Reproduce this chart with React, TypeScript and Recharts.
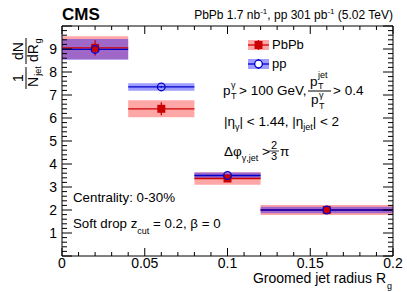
import {
    ComposedChart,
    Scatter,
    ErrorBar,
    XAxis,
    YAxis,
    ReferenceArea,
} from "recharts";

const FONT = "'Liberation Sans', Arial, Helvetica, sans-serif";

// Rg bins
const binLow = [0, 0.04, 0.08, 0.12];
const binHigh = [0.04, 0.08, 0.12, 0.2];

// PbPb 0-30%
const pbpbValue = [9.05, 6.4, 3.37, 2.0];
const pbpbStat = [0.33, 0.28, 0.14, 0.06];
const pbpbSyst = [0.5, 0.37, 0.27, 0.22];

// pp
const ppValue = [8.98, 7.35, 3.5, 2.0];
const ppStat = [0.06, 0.04, 0.04, 0.03];
const ppSyst = [0.45, 0.16, 0.13, 0.14];

const xTickLabels = [0, 0.05, 0.1, 0.15, 0.2];
const yTickLabels = [1, 2, 3, 4, 5, 6, 7, 8, 9];
const xAllTicks = Array.from({ length: 21 }, (_, i) => +(i * 0.01).toFixed(2));
const yAllTicks = Array.from({ length: 51 }, (_, i) => +(i * 0.2).toFixed(1));

const RED = "#cc0000";
const BLUE = "#0000cc";

const W = 407;
const H = 292;
const MARGIN = { top: 26, right: 14, bottom: 16, left: 32 };
const PLOT_TOP = MARGIN.top;
const PLOT_RIGHT = W - MARGIN.right;

const toPoints = (vals: number[], stat: number[]) =>
    vals.map((v, i) => ({
        x: (binLow[i] + binHigh[i]) / 2,
        y: v,
        xerr: (binHigh[i] - binLow[i]) / 2,
        yerr: stat[i],
    }));

const pbpbPoints = toPoints(pbpbValue, pbpbStat);
const ppPoints = toPoints(ppValue, ppStat);

const SquareMarker = (p: any) => (
    <rect x={p.cx - 4} y={p.cy - 4} width={8} height={8} fill={RED} />
);
const CircleMarker = (p: any) => (
    <circle cx={p.cx} cy={p.cy} r={3.8} fill="none" stroke={BLUE} strokeWidth={1.3} />
);

const isIn = (list: number[], v: number) => list.some((t) => Math.abs(t - v) < 1e-6);

// ROOT style: ticks pointing inwards, mirrored on the opposite side
const XTick = (props: any) => {
    const { x, y, payload } = props;
    const v = payload.value;
    const major = isIn(xTickLabels, v);
    const len = major ? 8 : 4;
    return (
        <g>
            <line x1={x} x2={x} y1={y} y2={y - len} stroke="#000" />
            <line x1={x} x2={x} y1={PLOT_TOP} y2={PLOT_TOP + len} stroke="#000" />
            {major && (
                <text x={x} y={y + 12} textAnchor="middle" fontSize={14} fontFamily={FONT} fill="#000">
                    {v}
                </text>
            )}
        </g>
    );
};

const YTick = (props: any) => {
    const { x, y, payload } = props;
    const v = payload.value;
    const major = Math.abs(v - Math.round(v)) < 1e-6;
    const len = major ? 10 : 5;
    return (
        <g>
            <line x1={x} x2={x + len} y1={y} y2={y} stroke="#000" />
            <line x1={PLOT_RIGHT - len} x2={PLOT_RIGHT} y1={y} y2={y} stroke="#000" />
            {isIn(yTickLabels, v) && (
                <text x={x - 5} y={y + 5} textAnchor="end" fontSize={14} fontFamily={FONT} fill="#000">
                    {v}
                </text>
            )}
        </g>
    );
};

const App = () => {
    return (
        <div style={{ position: "absolute", left: 0, top: 0, width: W, height: H, fontFamily: FONT }}>
            <ComposedChart width={W} height={H} margin={MARGIN}>
                <XAxis
                    xAxisId="x"
                    type="number"
                    dataKey="x"
                    domain={[0, 0.2]}
                    allowDataOverflow
                    ticks={xAllTicks}
                    interval={0}
                    height={20}
                    tickLine={false}
                    tickSize={0}
                    tickMargin={0}
                    axisLine={false}
                    tick={<XTick />}
                />
                <YAxis
                    yAxisId="y"
                    type="number"
                    dataKey="y"
                    domain={[0, 10]}
                    allowDataOverflow
                    ticks={yAllTicks}
                    interval={0}
                    width={30}
                    tickLine={false}
                    tickSize={0}
                    tickMargin={0}
                    axisLine={false}
                    tick={<YTick />}
                />

                {/* systematic bands */}
                {binLow.map((lo, i) => (
                    <ReferenceArea
                        key={`pbpb-syst-${i}`}
                        xAxisId="x"
                        yAxisId="y"
                        x1={lo}
                        x2={binHigh[i]}
                        y1={pbpbValue[i] - pbpbSyst[i]}
                        y2={pbpbValue[i] + pbpbSyst[i]}
                        fill="#ff0000"
                        fillOpacity={0.35}
                        stroke="none"
                        ifOverflow="visible"
                    />
                ))}
                {binLow.map((lo, i) => (
                    <ReferenceArea
                        key={`pp-syst-${i}`}
                        xAxisId="x"
                        yAxisId="y"
                        x1={lo}
                        x2={binHigh[i]}
                        y1={ppValue[i] - ppSyst[i]}
                        y2={ppValue[i] + ppSyst[i]}
                        fill="#0000ff"
                        fillOpacity={0.38}
                        stroke="none"
                        ifOverflow="visible"
                    />
                ))}

                <Scatter
                    name="PbPb"
                    xAxisId="x"
                    yAxisId="y"
                    data={pbpbPoints}
                    dataKey="y"
                    shape={SquareMarker}
                    isAnimationActive={false}
                >
                    <ErrorBar dataKey="xerr" direction="x" width={0} stroke={RED} strokeWidth={1.3} />
                    <ErrorBar dataKey="yerr" direction="y" width={0} stroke={RED} strokeWidth={1.3} />
                </Scatter>
                <Scatter
                    name="pp"
                    xAxisId="x"
                    yAxisId="y"
                    data={ppPoints}
                    dataKey="y"
                    shape={CircleMarker}
                    isAnimationActive={false}
                >
                    <ErrorBar dataKey="xerr" direction="x" width={0} stroke={BLUE} strokeWidth={1.3} />
                    <ErrorBar dataKey="yerr" direction="y" width={0} stroke={BLUE} strokeWidth={1.3} />
                </Scatter>

                {/* frame */}
                <ReferenceArea
                    xAxisId="x"
                    yAxisId="y"
                    x1={0}
                    x2={0.2}
                    y1={0}
                    y2={10}
                    fill="none"
                    fillOpacity={0}
                    stroke="#000"
                    strokeWidth={1}
                    ifOverflow="visible"
                />
            </ComposedChart>

            <svg
                width={W}
                height={H}
                style={{ position: "absolute", left: 0, top: 0, pointerEvents: "none" }}
                fontFamily={FONT}
                fill="#000"
            >
                <text x={62} y={20} fontSize={17} fontWeight="bold">CMS</text>
                <text x={393} y={19} fontSize={12} textAnchor="end">
                    PbPb 1.7 nb<tspan dy={-5} fontSize={8}>-1</tspan>
                    <tspan dy={5}>, pp 301 pb</tspan>
                    <tspan dy={-5} fontSize={8}>-1</tspan>
                    <tspan dy={5}> (5.02 TeV)</tspan>
                </text>

                {/* legend */}
                <rect x={248} y={40} width={21} height={10} fill="#ff0000" fillOpacity={0.35} />
                <line x1={248} x2={269} y1={45} y2={45} stroke={RED} strokeWidth={1.3} />
                <line x1={258.5} x2={258.5} y1={40} y2={50} stroke={RED} strokeWidth={1.3} />
                <rect x={254.5} y={41} width={8} height={8} fill={RED} />
                <text x={272} y={49} fontSize={13}>PbPb</text>
                <rect x={248} y={59} width={21} height={10} fill="#0000ff" fillOpacity={0.38} />
                <line x1={248} x2={269} y1={64} y2={64} stroke={BLUE} strokeWidth={1.3} />
                <line x1={258.5} x2={258.5} y1={59} y2={69} stroke={BLUE} strokeWidth={1.3} />
                <circle cx={258.5} cy={64} r={3.8} fill="#fff" stroke={BLUE} strokeWidth={1.3} />
                <text x={272} y={68} fontSize={13}>pp</text>

                {/* kinematic selection */}
                <text x={223} y={95} fontSize={13.5}>p</text>
                <text x={231} y={88} fontSize={9}>γ</text>
                <text x={231} y={99} fontSize={9}>T</text>
                <text x={239} y={95} fontSize={13.5}>&gt; 100 GeV,</text>
                <text x={310} y={86} fontSize={13.5}>p</text>
                <text x={318} y={78} fontSize={9}>jet</text>
                <text x={318} y={89} fontSize={9}>T</text>
                <line x1={308} x2={331} y1={91} y2={91} stroke="#000" strokeWidth={1} />
                <text x={311} y={104} fontSize={13.5}>p</text>
                <text x={319} y={98} fontSize={9}>γ</text>
                <text x={319} y={109} fontSize={9}>T</text>
                <text x={333} y={95} fontSize={13.5}>&gt; 0.4</text>

                <text x={224} y={126} fontSize={13.5}>
                    |η<tspan dy={4} fontSize={9}>γ</tspan>
                    <tspan dy={-4}>| &lt; 1.44, |η</tspan>
                    <tspan dy={4} fontSize={9}>jet</tspan>
                    <tspan dy={-4}>| &lt; 2</tspan>
                </text>

                <text x={224} y={156} fontSize={13.5}>
                    Δφ<tspan dy={5} fontSize={9}>γ,jet</tspan>
                    <tspan dy={-5}> &gt;</tspan>
                </text>
                <text x={274} y={149} fontSize={11} textAnchor="middle">2</text>
                <line x1={269} x2={279} y1={151} y2={151} stroke="#000" strokeWidth={0.8} />
                <text x={274} y={160} fontSize={11} textAnchor="middle">3</text>
                <text x={280} y={156} fontSize={13.5}>π</text>

                <text x={73} y={202} fontSize={13.3}>Centrality: 0-30%</text>
                <text x={73} y={228} fontSize={13.3}>
                    Soft drop z<tspan dy={6} fontSize={9}>cut</tspan>
                    <tspan dy={-6}> = 0.2, β = 0</tspan>
                </text>

                {/* axis titles */}
                <text x={386} y={283} fontSize={14} textAnchor="end">Groomed jet radius R</text>
                <text x={387} y={289} fontSize={9}>g</text>

                <g transform="translate(26, 0) rotate(-90)">
                    <text x={-78} y={-3} fontSize={14} textAnchor="middle">1</text>
                    <line x1={-89} x2={-67} y1={0} y2={0} stroke="#000" strokeWidth={1} />
                    <text x={-82} y={12} fontSize={14} textAnchor="middle">N</text>
                    <text x={-71} y={15} fontSize={9} textAnchor="middle">jet</text>
                    <text x={-51} y={-3} fontSize={14} textAnchor="middle">dN</text>
                    <line x1={-64} x2={-38} y1={0} y2={0} stroke="#000" strokeWidth={1} />
                    <text x={-53} y={12} fontSize={14} textAnchor="middle">dR</text>
                    <text x={-41} y={15} fontSize={9} textAnchor="middle">g</text>
                </g>
            </svg>
        </div>
    );
};

export default App;
